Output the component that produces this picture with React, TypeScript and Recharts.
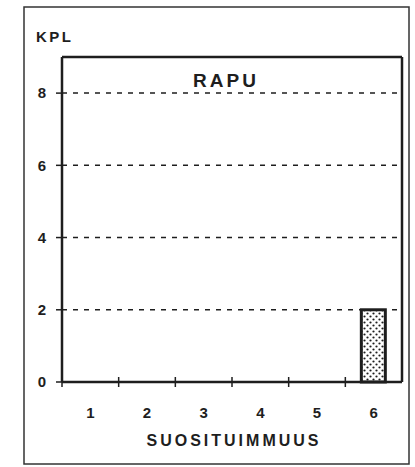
import { BarChart, Bar, XAxis, YAxis, CartesianGrid, ReferenceLine } from "recharts";

const ranks = ["1", "2", "3", "4", "5", "6"];
const counts = [0, 0, 0, 0, 0, 2];
const yTicks = [0, 2, 4, 6, 8];
const gridValues = [2, 4, 6, 8];
const yMax = 9;

const title = "RAPU";
const yLabel = "KPL";
const xLabel = "SUOSITUIMMUUS";

const data = ranks.map((k, i) => ({ k, v: counts[i] }));

const ink = "#1e1e1e";
const font = "'Liberation Sans', Arial, sans-serif";

function RankTick(props: any) {
  const { x, y, payload, width, visibleTicksCount } = props;
  const bw = width && visibleTicksCount ? width / visibleTicksCount : 56.7;
  const left = x - bw / 2;
  return (
    <g>
      <line x1={left} x2={left} y1={y - 5} y2={y + 5} stroke={ink} strokeWidth={1.5} />
      <text
        x={x}
        y={y + 36}
        textAnchor="middle"
        fontSize={15}
        fontWeight="bold"
        fill={ink}
        fontFamily={font}
      >
        {payload.value}
      </text>
    </g>
  );
}

function DottedBar(props: any) {
  const { x, y, width, height } = props;
  if (!height || height <= 0) return null;
  return (
    <g>
      <defs>
        <pattern id="dots" width="6" height="6" patternUnits="userSpaceOnUse">
          <rect width="6" height="6" fill="#fff" />
          <circle cx="1.5" cy="1.5" r="1.1" fill={ink} />
          <circle cx="4.5" cy="4.5" r="1.1" fill={ink} />
        </pattern>
      </defs>
      <rect
        x={x}
        y={y}
        width={width}
        height={height}
        fill="url(#dots)"
        stroke={ink}
        strokeWidth={3}
      />
    </g>
  );
}

export default function App() {
  return (
    <div
      style={{
        position: "absolute",
        left: 0,
        top: 0,
        width: 415,
        height: 467,
        background: "#fff",
        fontFamily: font,
      }}
    >
      <BarChart
        width={415}
        height={467}
        data={data}
        margin={{ top: 57, right: 0, bottom: 0, left: 0 }}
      >
        <CartesianGrid
          vertical={false}
          horizontalValues={gridValues}
          stroke={ink}
          strokeWidth={1.5}
          strokeDasharray="5 6"
        />
        <XAxis
          dataKey="k"
          height={85}
          tickSize={0}
          tickMargin={0}
          tickLine={false}
          axisLine={{ stroke: ink, strokeWidth: 2.5 }}
          tick={<RankTick />}
          interval={0}
        />
        <YAxis
          width={62}
          domain={[0, yMax]}
          ticks={yTicks}
          interval={0}
          tickSize={6}
          tickMargin={10}
          tickLine={{ stroke: ink, strokeWidth: 1.5 }}
          axisLine={{ stroke: ink, strokeWidth: 2.5 }}
          tick={{ fill: ink, fontSize: 15, fontWeight: "bold", fontFamily: font }}
        />
        <YAxis
          yAxisId="r"
          orientation="right"
          width={13}
          domain={[0, yMax]}
          tick={false}
          tickLine={false}
          axisLine={{ stroke: ink, strokeWidth: 2.5 }}
        />
        <ReferenceLine y={yMax} stroke={ink} strokeWidth={2.5} ifOverflow="visible" />
        <Bar dataKey="v" barSize={24} shape={<DottedBar />} isAnimationActive={false} />
      </BarChart>
      <svg
        width={415}
        height={467}
        style={{ position: "absolute", left: 0, top: 0, pointerEvents: "none" }}
      >
        <rect x={24} y={7} width={385} height={457} fill="none" stroke="#333" strokeWidth={1.5} />
        <text x={36} y={42} fontSize={15} fontWeight="bold" fill={ink} fontFamily={font} letterSpacing={2.5}>
          {yLabel}
        </text>
        <text x={226} y={87} textAnchor="middle" fontSize={19} fontWeight="bold" fill={ink} fontFamily={font} letterSpacing={3}>
          {title}
        </text>
        <text x={234} y={446} textAnchor="middle" fontSize={16} fontWeight="bold" fill={ink} fontFamily={font} letterSpacing={3}>
          {xLabel}
        </text>
      </svg>
    </div>
  );
}
